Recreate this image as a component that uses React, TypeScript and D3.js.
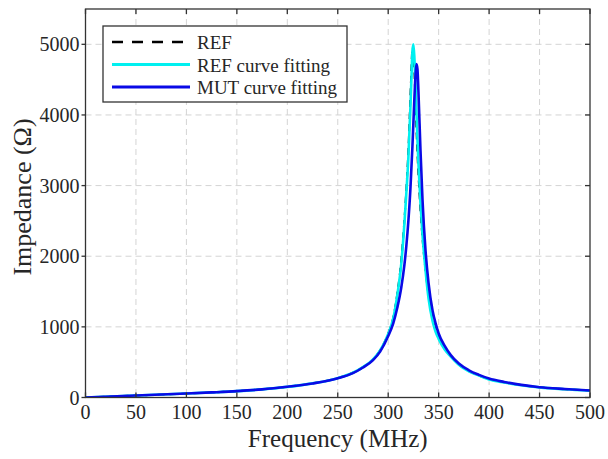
import * as d3 from "d3";

// frequency points (MHz) shared by all three curves
const freq = [0, 25, 50, 75, 100, 125, 150, 175, 200, 225, 250, 265, 275, 285, 292, 300, 305, 309, 313, 316, 318, 320, 322, 323, 324, 325, 326, 327, 328, 329, 330, 332, 334, 337, 340, 344, 347, 350, 356, 362, 370, 380, 390, 400, 415, 430, 450, 475, 500];

// impedance (ohm)
const refMeasured = [0, 14, 28, 42, 56, 72, 90, 115, 151, 200, 274, 350, 430, 540, 668, 905, 1130, 1470, 1950, 2500, 2950, 3500, 4250, 4650, 4950, 4900, 4600, 4200, 3800, 3450, 3150, 2650, 2250, 1800, 1450, 1120, 960, 850, 690, 585, 468, 372, 312, 258, 214, 179, 145, 118, 98];
const refFit = [0, 14, 28, 42, 56, 72, 90, 115, 150, 200, 274, 350, 430, 540, 666, 900, 1120, 1450, 1900, 2450, 2900, 3400, 4100, 4500, 4900, 5000, 4800, 4450, 4050, 3650, 3300, 2750, 2300, 1800, 1400, 1080, 930, 830, 680, 580, 465, 370, 310, 256, 212, 177, 143, 116, 96];
const mutFit = [0, 14, 28, 42, 56, 72, 90, 115, 152, 198, 272, 345, 425, 530, 650, 870, 1050, 1270, 1560, 1870, 2150, 2500, 2950, 3250, 3550, 3900, 4250, 4550, 4720, 4650, 4320, 3500, 2800, 2080, 1620, 1230, 1050, 906, 730, 600, 480, 385, 320, 268, 220, 182, 146, 120, 99];

const xTicks = [0, 50, 100, 150, 200, 250, 300, 350, 400, 450, 500];
const yTicks = [0, 1000, 2000, 3000, 4000, 5000];

const legendLabels = ["REF", "REF curve fitting", "MUT curve fitting"];

export default function App() {
  const width = 608;
  const height = 459;
  const left = 85.5;
  const right = 590;
  const top = 9;
  const bottom = 397.5;
  const font = "'Liberation Serif', 'Times New Roman', serif";

  const x = d3.scaleLinear().domain([0, 500]).range([left, right]);
  const y = d3.scaleLinear().domain([0, 5500]).range([bottom, top]);

  const line = (vals: number[]) =>
    d3
      .line<number>()
      .x((_, i) => x(freq[i]))
      .y((d) => y(d))
      .curve(d3.curveMonotoneX)(vals) || "";

  const series = [
    { vals: refMeasured, color: "#000000", w: 2, dash: "7,5" },
    { vals: refFit, color: "#00f0f0", w: 2.6, dash: "" },
    { vals: mutFit, color: "#0a0ae6", w: 2.6, dash: "" },
  ];

  const axisColor = "#333333";
  const gridColor = "#d4d4d4";

  return (
    <svg width={width} height={height} style={{ position: "absolute", left: 0, top: 0, background: "#fff" }}>
      {/* grid */}
      <g stroke={gridColor} strokeWidth={1} strokeDasharray="6,4">
        {xTicks.slice(1, -1).map((t) => (
          <line key={"gx" + t} x1={x(t)} x2={x(t)} y1={top} y2={bottom} />
        ))}
        {yTicks.slice(1).map((t) => (
          <line key={"gy" + t} x1={left} x2={right} y1={y(t)} y2={y(t)} />
        ))}
      </g>

      {/* curves */}
      <defs>
        <clipPath id="plot">
          <rect x={left} y={top} width={right - left} height={bottom - top} />
        </clipPath>
      </defs>
      <g clipPath="url(#plot)" fill="none">
        {series.map((s, i) => (
          <path key={i} d={line(s.vals)} stroke={s.color} strokeWidth={s.w} strokeDasharray={s.dash || undefined} strokeLinejoin="round" />
        ))}
      </g>

      {/* axes box */}
      <rect x={left} y={top} width={right - left} height={bottom - top} fill="none" stroke={axisColor} strokeWidth={1.3} />
      <g stroke={axisColor} strokeWidth={1.3}>
        {xTicks.map((t) => (
          <g key={"tx" + t}>
            <line x1={x(t)} x2={x(t)} y1={bottom} y2={bottom - 5} />
            <line x1={x(t)} x2={x(t)} y1={top} y2={top + 5} />
          </g>
        ))}
        {yTicks.map((t) => (
          <g key={"ty" + t}>
            <line x1={left} x2={left - 4} y1={y(t)} y2={y(t)} />
            <line x1={right} x2={right - 5} y1={y(t)} y2={y(t)} />
          </g>
        ))}
      </g>

      {/* tick labels */}
      <g fontFamily={font} fontSize={20} fill="#262626">
        {xTicks.map((t) => (
          <text key={"lx" + t} x={x(t)} y={bottom + 21} textAnchor="middle">
            {t}
          </text>
        ))}
        {yTicks.map((t) => (
          <text key={"ly" + t} x={left - 6} y={y(t) + 7} textAnchor="end">
            {t}
          </text>
        ))}
      </g>

      {/* axis titles */}
      <text x={(left + right) / 2} y={447} textAnchor="middle" fontFamily={font} fontSize={25} fill="#262626">
        Frequency (MHz)
      </text>
      <text
        transform={`translate(31,197) rotate(-90)`}
        textAnchor="middle"
        fontFamily={font}
        fontSize={26}
        fill="#262626"
      >
        Impedance (Ω)
      </text>

      {/* legend */}
      <g>
        <rect x={103} y={26} width={244} height={76} fill="#fff" stroke={axisColor} strokeWidth={1.3} />
        {legendLabels.map((lbl, i) => {
          const s = series[i];
          const ly = 42 + i * 22.5;
          return (
            <g key={lbl}>
              <line x1={112} x2={190} y1={ly} y2={ly} stroke={s.color} strokeWidth={s.w + 0.4} strokeDasharray={s.dash ? "11,9" : undefined} />
              <text x={197} y={ly + 7} fontFamily={font} fontSize={19} fill="#262626">
                {lbl}
              </text>
            </g>
          );
        })}
      </g>
    </svg>
  );
}
